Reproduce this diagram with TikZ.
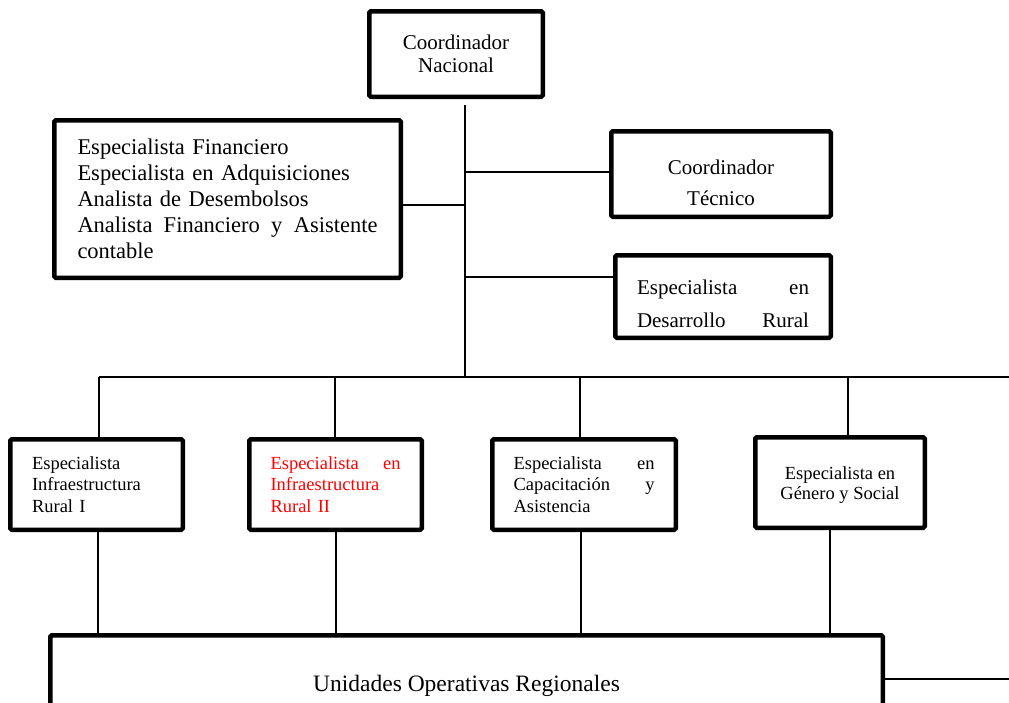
\documentclass[tikz,border=0pt]{standalone}
\usepackage{fontspec}
\setmainfont{Liberation Serif}
\begin{document}
\begin{tikzpicture}[x=1pt,y=-1pt,
  box/.style={draw, line width=4.5pt, rounded corners=1.5pt, inner sep=0pt, fill=white},
  conn/.style={line width=1.4pt},
  txt/.style={inner sep=0pt},
  fa/.style={font=\fontsize{21}{23}\selectfont},
  fb/.style={font=\fontsize{22.5}{26}\selectfont},
  fs/.style={font=\fontsize{18.5}{21.5}\selectfont},
  fu/.style={font=\fontsize{23.5}{27}\selectfont}]
\clip (0,0) rectangle (1009,702);
\fill[white] (0,0) rectangle (1009,702);
% boxes
\node[box, fa, align=center, minimum width=173.5pt, minimum height=85.5pt] (CN) at (456,54) {Coordinador\\Nacional};
\node[box, fb, align=left, text width=300pt, minimum width=346.5pt, minimum height=157.5pt] (FIN) at (227.5,199)
  {Especialista Financiero\\Especialista en Adquisiciones\\Analista de Desembolsos\\\makebox[300pt]{Analista\hfill Financiero\hfill y\hfill Asistente}\\contable};
\node[box, minimum width=219.5pt, minimum height=85.5pt] (CT) at (721,174) {};
\node[txt, align=center, font=\fontsize{21}{31}\selectfont] (CTt) at (721,182.5) {Coordinador\\Técnico};
\node[box, minimum width=215.5pt, minimum height=82.5pt] (DR) at (723,296.5) {};
\node[txt, align=left, font=\fontsize{21}{33}\selectfont, text width=172pt] (DRt) at (723,303.5)
  {\makebox[172pt]{Especialista\hfill en}\\\makebox[172pt]{Desarrollo\hfill Rural}};
\node[box, fs, align=left, text width=129pt, minimum width=172.5pt, minimum height=90.5pt] (B1) at (96.5,484.5)
  {Especialista\\Infraestructura\\Rural I};
\node[box, fs, align=left, text width=130pt, text=red, minimum width=172.5pt, minimum height=90.5pt] (B2) at (335.5,484.5)
  {\makebox[130pt]{Especialista\hfill en}\\Infraestructura\\Rural II};
\node[box, fs, align=left, text width=141pt, minimum width=183.5pt, minimum height=90.5pt] (B3) at (584,484.5)
  {\makebox[141pt]{Especialista\hfill en}\\\makebox[141pt]{Capacitación\hfill y}\\Asistencia};
\node[box, minimum width=169.5pt, minimum height=90.5pt] (B4) at (840,482.5) {};
\node[txt, align=center, font=\fontsize{18.5}{20}\selectfont] (B4t) at (840,485) {Especialista en\\Género y Social};
\node[box, fu, minimum width=832.5pt, minimum height=101.5pt] (UOR) at (466.5,686) {Unidades Operativas Regionales};
% coordinates
\coordinate (hub) at (465,377);
\coordinate (j1) at (465,205);
\coordinate (j2) at (465,172);
\coordinate (j3) at (465,277);
\coordinate (busL) at (99,377);
\coordinate (busR) at (1012,377);
\coordinate (t2) at (335,377);
\coordinate (t3) at (580,377);
\coordinate (t4) at (848,377);
\coordinate (d1) at (98,0);
\coordinate (d2) at (336,0);
\coordinate (d3) at (581,0);
\coordinate (d4) at (830,0);
\coordinate (rEnd) at (1012,679);
% connectors
\draw[conn, shorten <=6pt] (CN.south -| hub) -- (hub);
\draw[conn] (FIN.east |- j1) -- (j1);
\draw[conn] (j2) -- (CT.west |- j2);
\draw[conn] (j3) -- (DR.west |- j3);
\draw[conn] (busL) -- (busR);
\draw[conn] (busL) -- (B1.north -| busL);
\draw[conn] (t2) -- (B2.north -| t2);
\draw[conn] (t3) -- (B3.north -| t3);
\draw[conn] (t4) -- (B4.north -| t4);
\draw[conn] (B1.south -| d1) -- (UOR.north -| d1);
\draw[conn] (B2.south -| d2) -- (UOR.north -| d2);
\draw[conn] (B3.south -| d3) -- (UOR.north -| d3);
\draw[conn] (B4.south -| d4) -- (UOR.north -| d4);
\draw[conn] (UOR.east |- rEnd) -- (rEnd);
\end{tikzpicture}
\end{document}
